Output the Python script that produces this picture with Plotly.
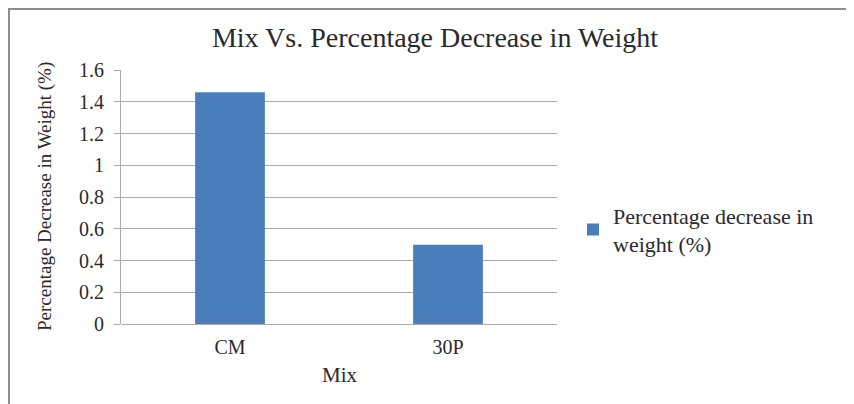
import plotly.graph_objects as go

categories = ["CM", "30P"]
values = [1.46, 0.50]
series_name = "Percentage decrease in<br>weight (%)"
y_ticks = [0, 0.2, 0.4, 0.6, 0.8, 1.0, 1.2, 1.4, 1.6]
y_tick_labels = ["0", "0.2", "0.4", "0.6", "0.8", "1", "1.2", "1.4", "1.6"]

FONT = "Liberation Serif, Times New Roman, serif"
TXT = "#2a2a2a"
GRID = "#ABABAB"

# page body has an 8px margin; figure sized so it fits the 854x404 window without scrolling
FW, FH = 846, 396
# plot area in figure px: x 113..549, y 62..316
L, T, W, H = 113, 62, 436, 254

def px(fx):
    return (fx - L) / W

def py(fy):
    return (T + H - fy) / H

fig = go.Figure()
fig.add_trace(go.Bar(
    x=categories, y=values, name=series_name,
    marker=dict(color="#4A7EBB", line=dict(width=0)),
    width=0.32, showlegend=True,
))

fig.update_layout(
    width=FW, height=FH,
    margin=dict(l=L, r=FW - L - W, t=T, b=FH - T - H),
    paper_bgcolor="white", plot_bgcolor="white",
    font=dict(family=FONT, color=TXT, size=19),
    title=dict(text="Mix Vs. Percentage Decrease in Weight", x=427 / FW, xanchor="center",
               y=1 - 29 / FH, yanchor="middle", font=dict(family=FONT, size=28, color=TXT)),
    showlegend=True,
    legend=dict(x=px(565), y=py(222), xanchor="left", yanchor="middle",
                font=dict(family=FONT, size=22, color=TXT),
                itemwidth=30, bgcolor="rgba(0,0,0,0)"),
)
fig.update_xaxes(
    showline=False, showgrid=False, ticks="", tickfont=dict(size=20, color=TXT),
    ticklabelstandoff=9,
)
fig.update_yaxes(
    range=[0, 1.6], tickvals=y_ticks, ticktext=y_tick_labels,
    showline=True, linecolor=GRID, linewidth=1,
    ticks="outside", ticklen=6, tickcolor=GRID,
    showgrid=True, gridcolor=GRID, gridwidth=1,
    zeroline=True, zerolinecolor=GRID, zerolinewidth=1,
    tickfont=dict(size=20, color=TXT), ticklabelstandoff=6,
)
fig.add_annotation(text="Percentage Decrease in Weight (%)", textangle=-90,
                   xref="paper", yref="paper", x=px(37), y=0.5,
                   xanchor="center", yanchor="middle", showarrow=False,
                   font=dict(family=FONT, size=19, color=TXT))
fig.add_annotation(text="Mix", xref="paper", yref="paper", x=px(332), y=py(367),
                   xanchor="center", yanchor="middle", showarrow=False,
                   font=dict(family=FONT, size=21, color=TXT))
fig.add_shape(type="rect", xref="paper", yref="paper",
              x0=px(1), x1=px(860), y0=py(420), y1=py(1),
              line=dict(color="#8C8C8C", width=2), fillcolor="rgba(0,0,0,0)", layer="below")

fig.write_html("out.html")
